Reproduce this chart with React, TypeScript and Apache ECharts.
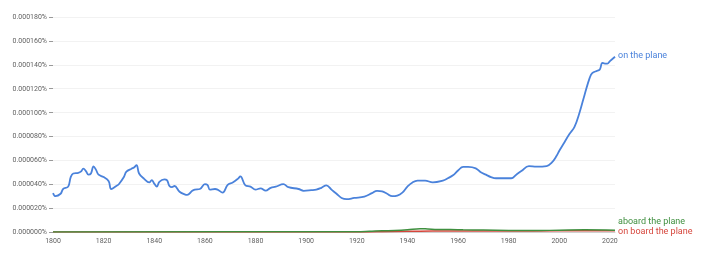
import React, { useEffect, useRef } from "react";
import * as echarts from "echarts";

const yTicks = [0, 0.00002, 0.00004, 0.00006, 0.00008, 0.0001, 0.00012, 0.00014, 0.00016, 0.00018];

// values in units of 0.000001 %
const onThePlane: [number, number][] = [
  [1800, 32.6], [1801, 30], [1803, 32], [1804, 36], [1806, 38], [1807, 46], [1808, 49], [1810, 49.5],
  [1811, 50.5], [1812, 53], [1813, 51], [1814, 48], [1815, 49], [1816, 55], [1817, 52], [1818, 48],
  [1820, 46], [1822, 42.5], [1823, 36], [1825, 38.5], [1826, 40], [1828, 46], [1829, 50.5], [1831, 53],
  [1832, 54], [1833, 56], [1834, 49], [1836, 44.5], [1838, 41.5], [1839, 43.5], [1840, 40.5], [1841, 38],
  [1842, 42], [1844, 44], [1845, 43.5], [1846, 38.5], [1847, 37.5], [1848, 38.5], [1850, 33.7], [1852, 31.5],
  [1853, 31], [1855, 34.5], [1856, 35.5], [1858, 36], [1860, 40], [1861, 39.5], [1862, 35.5], [1864, 36],
  [1865, 35.5], [1867, 33], [1869, 39.5], [1871, 41.5], [1873, 44.5], [1874, 46.5], [1876, 39], [1878, 38],
  [1880, 35.5], [1882, 36.5], [1884, 34.6], [1886, 37], [1888, 38], [1891, 40], [1893, 37.5], [1897, 36],
  [1899, 34.5], [1902, 35], [1904, 35.5], [1906, 37], [1908, 39], [1910, 35.5], [1912, 32], [1914, 28.5],
  [1916, 27.5], [1919, 28.5], [1923, 29.6], [1926, 32.5], [1928, 34.5], [1930, 34], [1932, 32], [1934, 30],
  [1936, 30.5], [1938, 33], [1940, 38], [1942, 41.5], [1944, 43], [1947, 43], [1950, 41.5], [1954, 43],
  [1956, 45], [1958, 47.5], [1960, 51.5], [1962, 54.5], [1964, 54.5], [1967, 53.3], [1969, 50], [1971, 48],
  [1973, 46], [1975, 45], [1981, 45], [1983, 48], [1985, 51], [1988, 55.2], [1991, 54.7], [1995, 55.2],
  [1997, 58], [1999, 64], [2000, 68], [2002, 75], [2004, 82], [2006, 88], [2008, 100], [2010, 115],
  [2012, 129], [2013, 133], [2015, 135], [2016, 136], [2017, 141.5], [2018, 141], [2019, 141], [2020, 143],
  [2022, 146.7],
];

const aboardThePlane: [number, number][] = [
  [1800, 0.1], [1900, 0.2], [1920, 0.3], [1925, 0.6], [1930, 1.0], [1935, 1.2], [1940, 1.8], [1945, 2.8],
  [1948, 2.5], [1952, 2.0], [1957, 2.1], [1962, 1.8], [1970, 1.6], [1980, 1.3], [1990, 1.2], [2000, 1.5],
  [2010, 1.8], [2022, 1.5],
];

const onBoardThePlane: [number, number][] = [
  [1800, 0.0], [1900, 0.05], [1925, 0.1], [1930, 0.3], [1940, 0.6], [1950, 0.8], [1960, 0.9], [1980, 0.9],
  [2000, 1.0], [2010, 1.1], [2022, 1.0],
];

const scale = (d: [number, number][]) => d.map(([x, y]) => [x, y * 1e-6]);

const BLUE = "#4a82db";
const GREEN = "#3f8f3f";
const RED = "#d6463c";
const FONT = "Roboto";

export default function App() {
  const ref = useRef<HTMLDivElement>(null);
  useEffect(() => {
    if (!ref.current) return;
    const chart = echarts.init(ref.current, undefined, { renderer: "svg" });
    chart.setOption({
      animation: false,
      grid: { left: 53, right: 89, top: 17, bottom: 21, containLabel: false },
      xAxis: {
        type: "value",
        min: 1800,
        max: 2022,
        interval: 20,
        axisLine: { show: true, lineStyle: { color: "#d0d0d0", width: 1 } },
        axisTick: { show: false },
        splitLine: { show: false },
        axisLabel: {
          color: "#616161",
          fontSize: 7,
          fontFamily: FONT,
          margin: 5,
          showMaxLabel: false,
          formatter: (v: number) => String(v),
        },
      },
      yAxis: {
        type: "value",
        min: 0,
        max: 0.00018,
        interval: 0.00002,
        axisLine: { show: false },
        axisTick: { show: true, length: 4, lineStyle: { color: "#999" } },
        splitLine: { show: true, lineStyle: { color: "#f2f2f2", width: 1 } },
        axisLabel: {
          color: "#616161",
          fontSize: 7,
          fontFamily: FONT,
          margin: 6,
          formatter: (v: number) => {
            const t = yTicks.reduce((a, b) => (Math.abs(b - v) < Math.abs(a - v) ? b : a), 0);
            return t.toFixed(6) + "%";
          },
        },
      },
      series: [
        {
          name: "on the plane",
          type: "line",
          data: scale(onThePlane),
          smooth: 0.4,
          showSymbol: false,
          lineStyle: { color: BLUE, width: 1.8 },
          itemStyle: { color: BLUE },
          endLabel: {
            show: true,
            formatter: "on the plane",
            color: BLUE,
            fontSize: 9,
            fontFamily: FONT,
            distance: 3,
            offset: [0, -2],
          },
        },
        {
          name: "on board the plane",
          type: "line",
          data: scale(onBoardThePlane),
          smooth: 0.4,
          showSymbol: false,
          lineStyle: { color: RED, width: 1.5 },
          itemStyle: { color: RED },
          endLabel: {
            show: true,
            formatter: "on board the plane",
            color: RED,
            fontSize: 9,
            fontFamily: FONT,
            distance: 3,
            offset: [0, 0],
          },
        },
        {
          name: "aboard the plane",
          type: "line",
          data: scale(aboardThePlane),
          smooth: 0.4,
          showSymbol: false,
          lineStyle: { color: GREEN, width: 1.5 },
          itemStyle: { color: GREEN },
          endLabel: {
            show: true,
            formatter: "aboard the plane",
            color: GREEN,
            fontSize: 9,
            fontFamily: FONT,
            distance: 3,
            offset: [0, -9],
          },
        },
      ],
    });
    return () => chart.dispose();
  }, []);
  return (
    <div
      ref={ref}
      style={{ position: "fixed", left: 0, top: 0, width: 704, height: 253 }}
    />
  );
}
